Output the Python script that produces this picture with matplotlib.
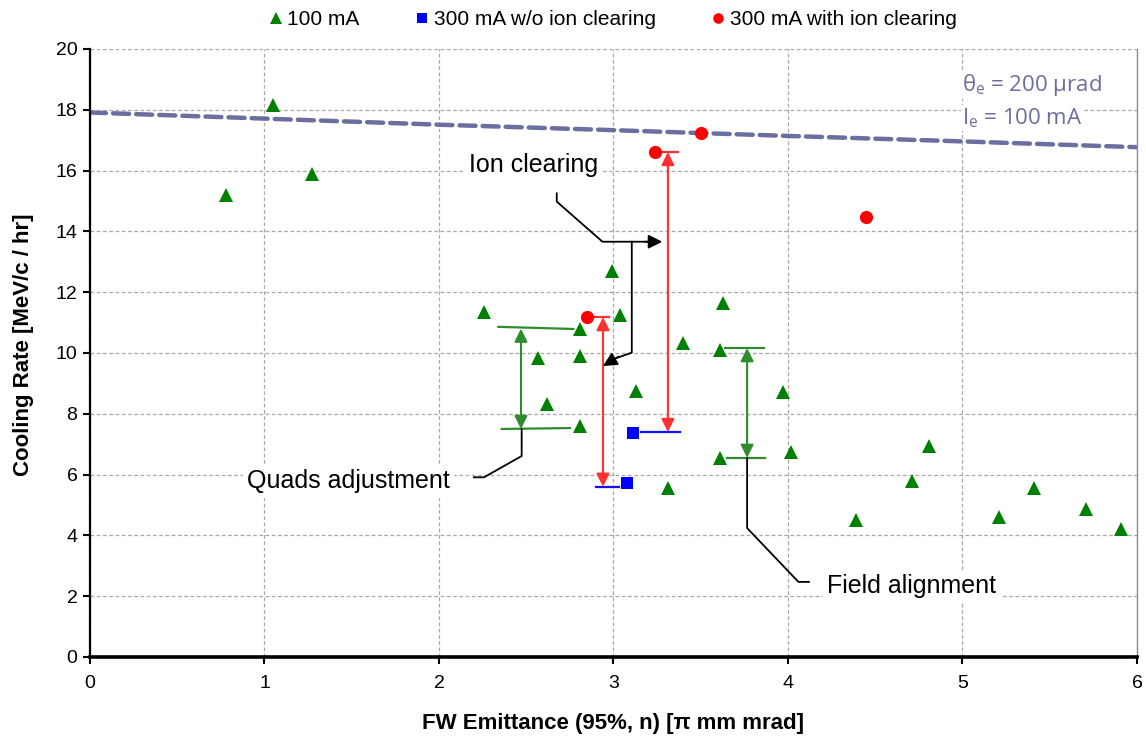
import matplotlib
matplotlib.use("Agg")
import matplotlib.pyplot as plt

plt.rcParams['font.family'] = ['Liberation Sans', 'DejaVu Sans']

# ---------------- data ----------------
tri_x = [0.78, 1.05, 1.27, 2.26, 2.81, 2.57, 2.81, 2.62, 2.81, 2.99, 3.04, 3.13,
         3.31, 3.40, 3.61, 3.63, 3.61, 3.97, 4.02, 4.39, 4.71, 4.81, 5.21, 5.41,
         5.71, 5.91]
tri_y = [15.2, 18.15, 15.9, 11.35, 10.8, 9.84, 9.9, 8.32, 7.6, 12.7, 11.25, 8.75,
         5.56, 10.33, 10.1, 11.65, 6.55, 8.72, 6.74, 4.51, 5.79, 6.94, 4.61, 5.56,
         4.87, 4.21]
sq_x = [3.08, 3.11]
sq_y = [5.72, 7.37]
circ_x = [2.85, 3.24, 3.50, 4.45]
circ_y = [11.18, 16.61, 17.24, 14.47]
theory_x = [0, 1, 2, 3, 4, 5, 6]
theory_y = [17.91, 17.71, 17.51, 17.33, 17.14, 16.96, 16.77]

legend_labels = ['100 mA', '300 mA w/o ion clearing', '300 mA with ion clearing']
xticks = [0, 1, 2, 3, 4, 5, 6]
yticks = [0, 2, 4, 6, 8, 10, 12, 14, 16, 18, 20]

# ---------------- figure ----------------
fig = plt.figure(figsize=(11.46, 7.40), dpi=100)
ax = fig.add_axes([0.0785, 0.1122, 0.9136, 0.8216])
ax.set_xlim(0, 6)
ax.set_ylim(0, 20)

grid_c = '#A8A8A8'
ax.grid(True, color=grid_c, linestyle=(0, (3, 2)), linewidth=0.9, zorder=0)
ax.set_axisbelow(True)

ax.spines['top'].set_visible(False)
ax.spines['right'].set_color('#909090')
ax.spines['right'].set_linewidth(1.0)
ax.spines['left'].set_linewidth(1.6)
ax.spines['bottom'].set_linewidth(2.6)

ax.set_xticks(xticks)
ax.set_yticks(yticks)
ax.tick_params(axis='both', direction='out', length=5, width=1.5, labelsize=14,
               colors='black')
ax.tick_params(axis='x', pad=8)
ax.tick_params(axis='y', pad=4)

ax.set_xlabel('FW Emittance (95%, n) [π mm mrad]', fontsize=16, fontweight='bold',
              labelpad=15)
ax.set_ylabel('Cooling Rate [MeV/c / hr]', fontsize=16, fontweight='bold', labelpad=4)
ax.yaxis.set_label_coords(-0.0535, 0.513)

# theory line
ax.plot(theory_x, theory_y, color='#6C6E9F', linewidth=3.2,
        linestyle=(0, (3.6, 1.6)), dash_capstyle='round', zorder=2)

# ---------------- annotations ----------------
red = '#FF3030'
green = '#2E8B2E'
blue = '#1010FF'
head = 'head_length=0.6,head_width=0.3'

def dbl_arrow(x, y0, y1, color):
    ax.annotate('', xy=(x, y1), xytext=(x, y0),
                arrowprops=dict(arrowstyle='<|-|>,' + head,
                                color=color, lw=1.5, shrinkA=0, shrinkB=0,
                                mutation_scale=13), zorder=3)

def cap(x0, x1, y0, y1, color):
    ax.plot([x0, x1], [y0, y1], color=color, lw=1.6, zorder=3)

# red arrows (ion clearing)
dbl_arrow(2.94, 11.18, 5.60, red)
cap(2.84, 2.975, 11.18, 11.18, red)
cap(2.90, 3.03, 5.60, 5.60, blue)
dbl_arrow(3.312, 16.61, 7.40, red)
cap(3.28, 3.37, 16.61, 16.61, red)
cap(3.16, 3.38, 7.40, 7.40, blue)

# green arrows
dbl_arrow(2.47, 10.80, 7.50, green)
cap(2.34, 2.77, 10.86, 10.79, green)
cap(2.36, 2.75, 7.50, 7.53, green)
dbl_arrow(3.766, 10.16, 6.55, green)
cap(3.64, 3.86, 10.16, 10.16, green)
cap(3.65, 3.87, 6.55, 6.55, green)

# callouts
ax.plot([2.675, 2.675, 2.937, 3.22], [15.25, 14.98, 13.66, 13.66], color='black', lw=1.3, zorder=3)
ax.annotate('', xy=(3.28, 13.66), xytext=(3.18, 13.66),
            arrowprops=dict(arrowstyle='-|>,' + head,
                            color='black', lw=1.3, shrinkA=0, shrinkB=0, mutation_scale=14), zorder=3)
ax.plot([3.105, 3.105, 3.00], [13.66, 10.01, 9.80], color='black', lw=1.3, zorder=3)
ax.annotate('', xy=(2.94, 9.57), xytext=(3.03, 9.88),
            arrowprops=dict(arrowstyle='-|>,' + head,
                            color='black', lw=1.3, shrinkA=0, shrinkB=0, mutation_scale=14), zorder=3)
ax.plot([2.474, 2.474, 2.258, 2.20], [7.50, 6.61, 5.91, 5.91], color='black', lw=1.3, zorder=3)
ax.plot([3.766, 3.766, 4.06, 4.12], [6.55, 4.24, 2.47, 2.47], color='black', lw=1.3, zorder=3)

txt_kw = dict(fontsize=18, ha='center', va='center', zorder=4,
              bbox=dict(facecolor='white', edgecolor='none', pad=3))
ax.text(2.54, 16.2, 'Ion clearing', **txt_kw)
ax.text(1.48, 5.78, 'Quads adjustment', **txt_kw)
ax.text(4.71, 2.33, 'Field alignment', **txt_kw)

ax.text(5.0, 18.82, r'$\mathregular{θ_e}$ = 200 μrad', fontsize=16, color='#6E6E9E',
        family='Open Sans', ha='left', va='center', zorder=4,
        bbox=dict(facecolor='white', edgecolor='none', pad=1))
ax.text(5.0, 17.72, r'$\mathregular{I_e}$ = 100 mA', fontsize=16, color='#6E6E9E',
        family='Open Sans', ha='left', va='center', zorder=4,
        bbox=dict(facecolor='white', edgecolor='none', pad=1))

# ---------------- data marks ----------------
h1, = ax.plot(tri_x, tri_y, linestyle='none', marker='^', ms=10, color='#008000',
              markeredgewidth=0, zorder=5)
h2, = ax.plot(sq_x, sq_y, linestyle='none', marker='s', ms=9, color='#0000FF',
              markeredgewidth=0, zorder=5)
h3, = ax.plot(circ_x, circ_y, linestyle='none', marker='o', ms=9.5, color='#FF0000',
              markeredgewidth=0, zorder=5)

fig.legend([h1, h2, h3], legend_labels, loc='upper center', bbox_to_anchor=(0.534, 1.012),
           ncol=3, frameon=False, fontsize=15, handletextpad=0.15, columnspacing=2.6,
           handlelength=0.8, markerscale=0.8)

fig.savefig('out.png', dpi=100)
